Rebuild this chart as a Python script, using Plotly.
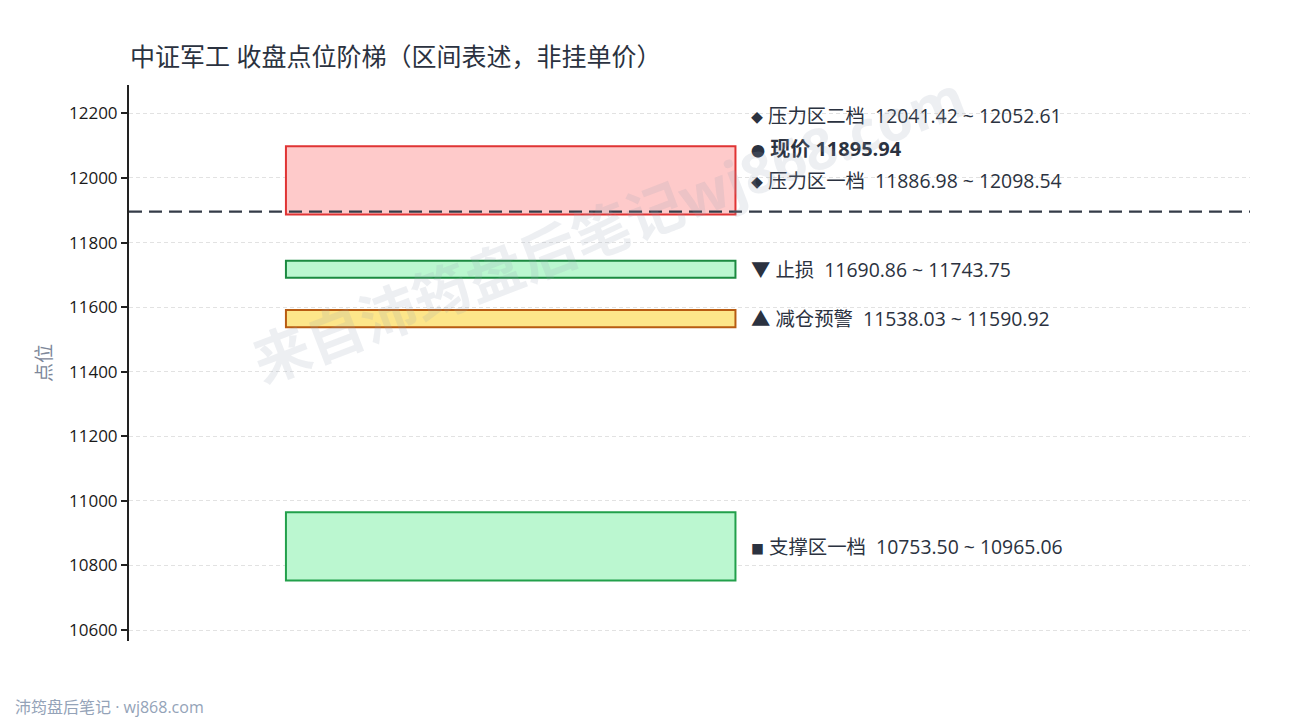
import plotly.graph_objects as go

# zone data (closing-price levels), in label dodge order
zone_names = ["支撑区一档", "减仓预警", "止损", "压力区一档", "现价", "压力区二档"]
zone_lo = [10753.50, 11538.03, 11690.86, 11886.98, 11895.94, 12041.42]
zone_hi = [10965.06, 11590.92, 11743.75, 12098.54, 11895.94, 12052.61]
zone_kind = ["support", "warn", "stop", "press", "price", "press2"]

y_ticks = [10600, 10800, 11000, 11200, 11400, 11600, 11800, 12000, 12200]
current_price = 11895.94

TEXT = "#2b3240"
FONT = "Open Sans, Noto Sans CJK SC"
SP = "\u00a0\u00a0"

style = {
    "support": dict(fill="#bbf7d0", line="#22a04b", mark="<span style='font-size:13px'>■</span>"),
    "warn": dict(fill="#fde68a", line="#b85c12", mark="▲"),
    "stop": dict(fill="#bbf7d0", line="#1b8a40", mark="▼"),
    "press": dict(fill="#fecaca", line="#e03434", mark="<span style='font-size:12px'>◆</span>"),
    "press2": dict(fill=None, line=None, mark="<span style='font-size:12px'>◆</span>"),
    "price": dict(fill=None, line=None, mark="<span style='font-size:14px'>●</span>"),
}

fig = go.Figure()
# invisible trace so the axes exist
fig.add_trace(go.Scatter(x=[0, 1], y=[zone_lo[0], zone_hi[3]], mode="markers",
                         marker=dict(opacity=0), hoverinfo="skip", showlegend=False))

# boxes for zones
for name, lo, hi, kind in zip(zone_names, zone_lo, zone_hi, zone_kind):
    st = style[kind]
    if st["fill"] is None:
        continue
    fig.add_shape(type="rect", xref="x", yref="y", x0=0.14, x1=0.541, y0=lo, y1=hi,
                  fillcolor=st["fill"], line=dict(color=st["line"], width=2), layer="above")

# current price dashed line
fig.add_shape(type="line", xref="paper", yref="y", x0=0, x1=1, y0=current_price, y1=current_price,
              line=dict(color="#353c48", width=2.2, dash="13px,7px"), layer="above")

# labels, pushed up to avoid overlap
gap = 100
prev = None
for name, lo, hi, kind in zip(zone_names, zone_lo, zone_hi, zone_kind):
    mid = (lo + hi) / 2
    y = mid if prev is None else max(mid, prev + gap)
    prev = y
    mark = style[kind]["mark"]
    if kind == "price":
        txt = f"{mark} <b>{name} {current_price:.2f}</b>"
        size = 20
    else:
        txt = f"{mark} {name}{SP}{lo:.2f} ~ {hi:.2f}"
        size = 19.4
    fig.add_annotation(x=0.553, y=y, xref="x", yref="y", text=txt, showarrow=False,
                       xanchor="left", yanchor="middle", font=dict(size=size, color=TEXT, family=FONT))

# watermark
fig.add_annotation(x=0.428, y=0.742, xref="paper", yref="paper", text="<b>来自沛筠盘后笔记wj868.com</b>",
                   showarrow=False, textangle=-21, xanchor="center", yanchor="middle",
                   font=dict(size=57, color="rgba(148,158,180,0.17)", family=FONT))

# footer
fig.add_annotation(x=-0.1035, y=-0.119, xref="paper", yref="paper", text="沛筠盘后笔记 · wj868.com",
                   showarrow=False, xanchor="left", yanchor="middle",
                   font=dict(size=16, color="#94a3b8", family=FONT))

fig.update_layout(
    width=1290, height=720,
    paper_bgcolor="white", plot_bgcolor="white",
    margin=dict(l=121, r=48, t=77, b=87),
    title=dict(text="中证军工 收盘点位阶梯（区间表述，非挂单价）", x=122 / 1290, xanchor="left",
               y=1 - 49 / 720, yanchor="middle", font=dict(size=25, color=TEXT, family=FONT)),
    font=dict(family=FONT, color=TEXT),
    showlegend=False,
    xaxis=dict(range=[0, 1], visible=False, fixedrange=True),
    yaxis=dict(range=[10566, 12288], tickvals=y_ticks, tickformat="d", ticks="outside", ticklen=6,
               tickwidth=2, tickcolor="#222222", showline=True, linecolor="#222222", linewidth=2,
               showgrid=True, gridcolor="#e2e2e2", gridwidth=1, griddash="4px,3px",
               zeroline=False, tickfont=dict(size=17, color="#1a1a1a", family=FONT),
               title=dict(text="点位", font=dict(size=19, color="#7d8799", family=FONT), standoff=12)),
)

fig.write_html("out.html")
